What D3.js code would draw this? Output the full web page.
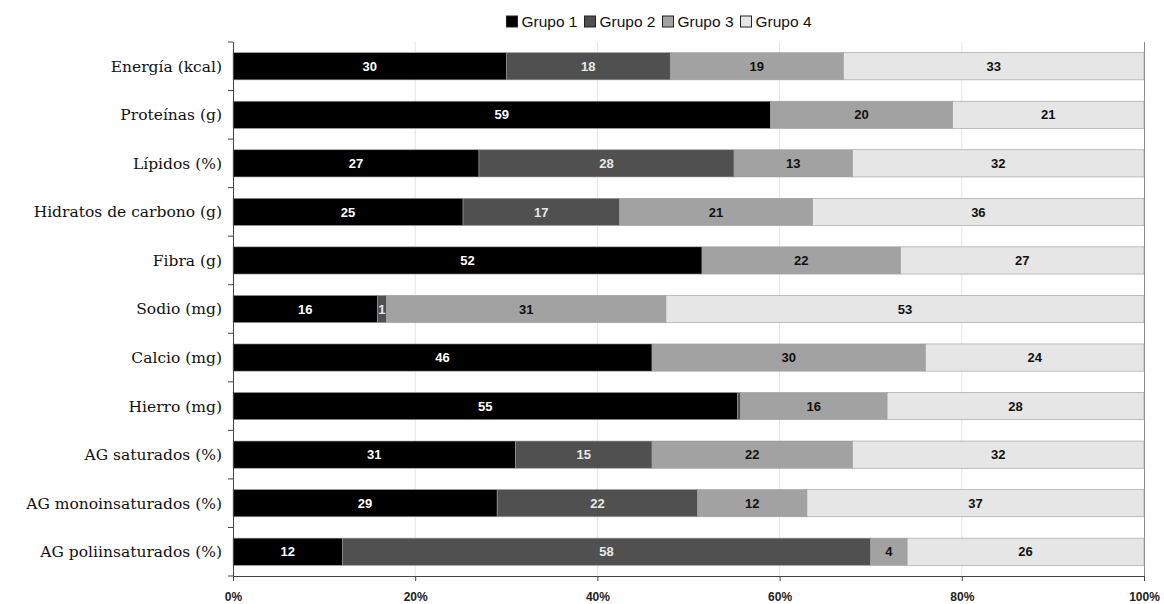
<!DOCTYPE html>
<html><head><meta charset="utf-8">
<script src="https://cdn.jsdelivr.net/npm/d3@7"></script>
<style>body{margin:0;background:#fff}</style>
</head><body>
<svg id="chart" width="1164" height="604"></svg>
<script>
const categories = ["Energía (kcal)","Proteínas (g)","Lípidos (%)","Hidratos de carbono (g)","Fibra (g)","Sodio (mg)","Calcio (mg)","Hierro (mg)","AG saturados (%)","AG monoinsaturados (%)","AG poliinsaturados (%)"];
const seriesNames = ["Grupo 1","Grupo 2","Grupo 3","Grupo 4"];
const grupo1 = [30,59,27,25,52,16,46,55,31,29,12];
const grupo2 = [18,0,28,17,0,1,0,0.3,15,22,58];
const grupo3 = [19,20,13,21,22,31,30,16,22,12,4];
const grupo4 = [33,21,32,36,27,53,24,28,32,37,26];
const xTicks = [0,0.2,0.4,0.6,0.8,1];
const colors = ["#000000","#505050","#a2a2a2","#e6e6e6"];
const labelColors = ["#ffffff","#e8e8e8","#111111","#111111"];

const svg = d3.select("#chart");
const mLeft = 233, mRight = 1144, mTop = 42, mBottom = 576;

const data = categories.map((c,i)=>({cat:c, "Grupo 1":grupo1[i], "Grupo 2":grupo2[i], "Grupo 3":grupo3[i], "Grupo 4":grupo4[i]}));
const stack = d3.stack().keys(seriesNames).offset(d3.stackOffsetExpand);
const layers = stack(data);

const x = d3.scaleLinear().domain([0,1]).range([mLeft,mRight]);
const y = d3.scaleBand().domain(categories).range([mTop,mBottom]).paddingInner(0.44).paddingOuter(0.22);

// gridlines
svg.append("g").selectAll("line").data(xTicks.filter(t=>t>0 && t<1)).join("line")
  .attr("x1",d=>x(d)).attr("x2",d=>x(d)).attr("y1",mTop).attr("y2",mBottom)
  .attr("stroke","#e4e4e4").attr("stroke-width",1);
// right border
svg.append("line").attr("x1",mRight+0.5).attr("x2",mRight+0.5).attr("y1",mTop).attr("y2",mBottom)
  .attr("stroke","#8a8a8a").attr("stroke-width",1);

// bars
const g = svg.append("g");
layers.forEach((layer,li)=>{
  g.append("g").selectAll("rect").data(layer).join("rect")
    .attr("x",d=>x(d[0])).attr("width",d=>Math.max(0,x(d[1])-x(d[0])))
    .attr("y",d=>y(d.data.cat)).attr("height",y.bandwidth())
    .attr("fill",colors[li]).attr("stroke", d=> (d[1]-d[0])>0 ? "#9a9a9a" : "none").attr("stroke-width",0.6);
});
layers.forEach((layer,li)=>{
  g.append("g").selectAll("text").data(layer.filter(d=>Math.round(d.data[seriesNames[li]])>=1)).join("text")
    .attr("x",d=>(x(d[0])+x(d[1]))/2).attr("y",d=>y(d.data.cat)+y.bandwidth()/2)
    .attr("dy","0.36em").attr("text-anchor","middle")
    .attr("font-family","Liberation Sans, Arial, sans-serif").attr("font-weight","bold").attr("font-size",13)
    .attr("fill",labelColors[li])
    .text(d=>d3.format(".0f")(d.data[seriesNames[li]]));
});

// y axis
const step = y.step();
svg.append("line").attr("x1",mLeft+0.5).attr("x2",mLeft+0.5).attr("y1",mTop).attr("y2",mBottom)
  .attr("stroke","#444").attr("stroke-width",1);
svg.append("g").selectAll("line").data(d3.range(categories.length+1)).join("line")
  .attr("x1",mLeft-5).attr("x2",mLeft).attr("y1",i=>mTop+i*step).attr("y2",i=>mTop+i*step)
  .attr("stroke","#444").attr("stroke-width",1);
svg.append("g").selectAll("text").data(categories).join("text")
  .attr("x",222).attr("y",d=>y(d)+y.bandwidth()/2).attr("dy","0.35em")
  .attr("text-anchor","end").attr("font-family","DejaVu Serif, serif")
  .attr("font-size",15.5).attr("fill","#111").text(d=>d);

// x axis
const xAxis = svg.append("g").attr("transform",`translate(0,${mBottom})`)
  .call(d3.axisBottom(x).tickValues(xTicks).tickFormat(d3.format(".0%")).tickSize(5).tickSizeOuter(0));
xAxis.select(".domain").attr("stroke","#444");
xAxis.selectAll(".tick line").attr("stroke","#444");
xAxis.selectAll("text").attr("font-family","Liberation Sans, Arial, sans-serif").attr("font-size",12)
  .attr("font-weight","bold").attr("fill","#222").attr("dy","1.45em");

// legend
const legend = svg.append("g");
let lx = 0;
seriesNames.forEach((s,i)=>{
  const item = legend.append("g").attr("transform",`translate(${lx},0)`);
  item.append("rect").attr("x",0).attr("y",16).attr("width",11).attr("height",11)
    .attr("fill",colors[i]).attr("stroke","#222").attr("stroke-width",1);
  const t = item.append("text").attr("x",15).attr("y",21.5).attr("dy","0.36em")
    .attr("font-family","Liberation Sans, Arial, sans-serif").attr("font-size",15.5).attr("fill","#111").text(s);
  lx += 15 + t.node().getComputedTextLength() + 7;
});
const lw = lx - 7;
legend.attr("transform",`translate(${659 - lw/2},0)`);
</script>
</body></html>
